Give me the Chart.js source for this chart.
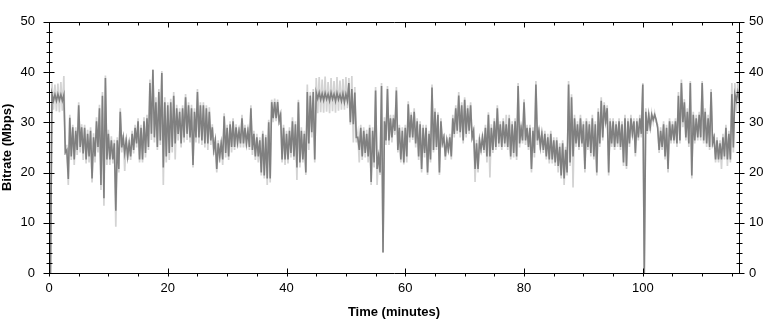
<!DOCTYPE html>
<html>
<head>
<meta charset="utf-8">
<script src="https://cdn.jsdelivr.net/npm/chart.js@4.4.1/dist/chart.umd.min.js"></script>
<style>
html,body{margin:0;padding:0;background:#fff;}
canvas{display:block;}
</style>
</head>
<body>
<canvas id="c" width="768" height="324"></canvas>
<script>
// Sampling step of the series (minutes per sample)
const STEP = 0.5;

// Dark series (bitrate) upper envelope per half-minute, Mbps
const darkHigh = [
  24.0, 35.6, 35.5, 35.6, 35.5, 35.4, 24.5, 30.9, 29.0, 28.3,
  33.4, 29.0, 28.9, 27.7, 28.3, 27.0, 30.2, 32.8, 35.3, 38.8,
  27.7, 26.4, 25.8, 26.4, 32.1, 27.0, 26.4, 25.8, 27.7, 28.9,
  30.2, 28.9, 30.2, 30.8, 37.8, 40.4, 34.0, 36.0, 39.8, 34.0,
  33.4, 34.0, 35.3, 32.8, 32.1, 32.8, 35.0, 33.4, 32.8, 32.1,
  36.0, 33.4, 33.4, 32.8, 32.1, 29.0, 26.4, 25.8, 25.8, 31.2,
  28.9, 29.6, 30.2, 29.0, 28.3, 30.8, 28.9, 28.3, 32.8, 27.7,
  27.0, 26.4, 27.7, 27.0, 30.0, 34.0, 34.0, 34.0, 31.5, 28.9,
  27.7, 28.3, 30.2, 29.6, 34.0, 28.3, 27.7, 36.0, 35.3, 36.0,
  35.9, 35.9, 35.7, 35.8, 35.6, 35.9, 35.6, 35.8, 35.5, 35.7,
  35.6, 37.8, 36.6, 35.9, 27.0, 28.9, 28.3, 27.7, 28.9, 28.3,
  36.3, 23.2, 37.2, 30.2, 36.6, 30.8, 30.8, 36.3, 28.9, 28.3,
  28.9, 33.6, 31.5, 32.1, 30.2, 29.6, 28.9, 28.9, 27.7, 36.9,
  32.1, 31.5, 30.2, 27.0, 26.4, 27.0, 30.8, 32.8, 35.3, 33.4,
  34.5, 32.8, 33.4, 28.3, 25.8, 26.4, 27.0, 28.9, 31.5, 28.9,
  30.2, 32.8, 29.6, 30.2, 29.6, 30.8, 29.6, 30.2, 37.2, 28.9,
  34.0, 28.9, 28.9, 28.3, 37.5, 28.3, 27.7, 27.7, 27.0, 27.7,
  26.4, 26.4, 25.1, 25.8, 24.5, 37.5, 35.0, 30.8, 29.6, 30.8,
  29.6, 30.2, 29.6, 30.8, 29.6, 32.1, 34.3, 33.4, 32.8, 30.2,
  30.2, 29.6, 30.2, 29.6, 30.8, 30.2, 30.8, 30.2, 30.2, 30.8,
  37.5, 32.1, 31.5, 31.5, 31.5, 28.9, 28.3, 29.6, 28.9, 30.2,
  29.6, 30.2, 35.3, 37.8, 34.0, 32.1, 37.8, 31.5, 30.8, 31.5,
  37.8, 32.1, 30.8, 36.0, 27.0, 26.4, 25.8, 27.0, 28.9, 27.7,
  35.6, 35.6, 36.0
];

// Dark series lower envelope per half-minute, Mbps
const darkLow = [
  0.0, 34.3, 34.3, 34.4, 34.3, 24.0, 18.7, 23.2, 22.6, 24.5,
  25.1, 23.8, 22.6, 23.2, 18.8, 23.2, 25.1, 17.5, 14.9, 22.6,
  22.6, 22.6, 12.4, 20.7, 25.0, 23.9, 23.2, 23.2, 24.5, 25.8,
  22.6, 22.6, 23.9, 25.1, 27.7, 27.0, 25.1, 26.4, 21.0, 23.2,
  23.9, 25.1, 25.8, 27.7, 25.8, 27.0, 27.7, 27.0, 21.5, 27.0,
  27.0, 26.4, 25.8, 25.8, 26.4, 24.5, 20.7, 23.2, 22.6, 23.9,
  23.2, 25.1, 25.1, 26.0, 25.8, 25.8, 25.8, 25.1, 24.5, 23.2,
  23.2, 20.0, 19.4, 18.8, 18.8, 30.8, 30.8, 30.2, 22.6, 22.6,
  22.6, 23.9, 23.2, 21.0, 22.0, 22.6, 20.0, 25.8, 28.0, 22.6,
  34.7, 34.5, 34.4, 34.6, 34.3, 34.6, 34.2, 34.5, 34.2, 34.0,
  34.3, 30.0, 29.6, 27.0, 24.5, 23.2, 23.9, 23.2, 18.1, 22.0,
  20.7, 20.0, 4.1, 26.4, 26.4, 27.0, 28.3, 24.5, 22.6, 22.0,
  23.2, 27.0, 27.0, 25.8, 23.2, 20.7, 23.9, 20.0, 22.6, 24.5,
  25.1, 20.0, 25.8, 23.2, 24.5, 23.2, 27.7, 28.3, 28.0, 26.4,
  27.7, 28.3, 27.0, 20.7, 20.7, 24.5, 24.5, 23.2, 23.2, 24.5,
  25.1, 25.8, 25.1, 25.8, 25.1, 23.2, 23.9, 23.2, 25.8, 26.4,
  26.4, 25.1, 20.7, 23.9, 26.4, 25.1, 24.5, 23.2, 22.6, 22.6,
  22.0, 21.3, 19.4, 18.8, 20.0, 22.0, 23.2, 25.8, 25.1, 25.8,
  20.7, 25.1, 23.9, 23.2, 20.0, 25.8, 27.0, 30.2, 20.0, 25.8,
  25.1, 25.8, 25.1, 22.0, 21.3, 25.8, 27.7, 23.9, 27.0, 27.7,
  0.0, 28.3, 29.0, 30.5, 30.5, 24.5, 25.1, 23.2, 20.7, 26.4,
  26.4, 25.8, 26.4, 30.0, 27.0, 25.8, 19.4, 26.4, 27.0, 27.0,
  26.4, 25.8, 25.1, 25.8, 22.6, 22.6, 22.6, 23.2, 22.6, 22.6,
  25.0, 34.3, 34.3
];

// Light series (peak bitrate) upper envelope per half-minute, Mbps
const lightHigh = [
  24.0, 37.8, 37.5, 37.7, 38.0, 39.2, 25.5, 31.5, 29.5, 29.0,
  34.0, 29.6, 29.5, 28.5, 29.0, 27.8, 31.0, 33.5, 36.0, 39.3,
  28.5, 27.2, 26.5, 27.0, 32.8, 27.5, 27.0, 26.5, 28.3, 29.5,
  30.8, 29.5, 31.0, 31.5, 38.5, 40.6, 35.0, 36.6, 40.2, 35.0,
  34.0, 34.7, 36.0, 33.5, 32.8, 33.4, 35.6, 34.0, 33.5, 32.8,
  36.6, 34.0, 34.0, 33.4, 33.0, 29.6, 27.0, 26.4, 26.5, 31.8,
  29.5, 30.2, 30.8, 29.6, 29.0, 31.5, 29.5, 29.0, 33.4, 28.3,
  27.7, 27.0, 28.3, 27.5, 30.5, 34.5, 34.7, 34.5, 32.0, 29.5,
  28.3, 29.0, 31.0, 30.2, 34.5, 29.0, 28.3, 37.5, 36.0, 36.6,
  38.8, 39.0, 38.5, 39.1, 38.0, 38.8, 38.2, 39.0, 38.3, 38.6,
  39.0, 38.8, 39.2, 37.0, 27.8, 29.5, 29.0, 28.5, 29.5, 29.0,
  37.0, 24.0, 37.8, 31.0, 37.2, 31.5, 31.5, 37.0, 29.5, 29.0,
  29.5, 34.2, 32.0, 32.8, 30.8, 30.2, 29.5, 29.5, 28.3, 37.5,
  32.8, 32.0, 30.8, 27.7, 27.0, 27.7, 31.5, 33.4, 36.0, 34.0,
  35.0, 33.4, 34.0, 29.0, 26.5, 27.0, 27.7, 29.5, 32.0, 29.6,
  30.8, 33.4, 30.2, 30.8, 31.5, 31.5, 30.2, 30.8, 37.8, 29.5,
  34.6, 29.5, 29.5, 29.0, 38.2, 29.0, 28.3, 28.3, 27.7, 28.3,
  27.0, 27.0, 25.8, 26.4, 25.1, 38.2, 35.6, 31.5, 30.2, 31.5,
  30.2, 30.8, 30.2, 31.5, 30.2, 32.8, 35.0, 34.0, 33.4, 30.8,
  30.8, 30.2, 30.8, 30.2, 31.5, 30.8, 31.5, 30.8, 30.8, 31.5,
  37.8, 32.8, 32.0, 31.8, 31.8, 29.5, 29.0, 30.2, 29.5, 30.8,
  30.2, 30.8, 36.0, 38.5, 34.6, 32.8, 38.2, 32.1, 31.5, 32.1,
  38.2, 32.8, 31.5, 36.6, 27.7, 27.0, 26.4, 27.7, 29.5, 28.3,
  37.8, 37.8, 38.0
];

// Light series lower envelope per half-minute, Mbps
const lightLow = [
  0.0, 32.5, 32.2, 32.0, 32.3, 23.5, 17.5, 22.5, 21.5, 23.5,
  24.0, 22.5, 21.8, 22.0, 18.0, 22.0, 24.0, 16.5, 13.4, 21.5,
  21.5, 21.8, 9.2, 20.0, 24.0, 20.3, 22.5, 22.5, 23.8, 25.0,
  22.0, 22.0, 23.0, 24.5, 26.5, 26.0, 24.5, 25.5, 17.5, 22.0,
  22.5, 24.0, 22.6, 26.4, 25.0, 26.0, 26.5, 26.0, 21.0, 26.0,
  25.8, 25.5, 25.0, 24.5, 25.5, 23.5, 20.0, 22.0, 21.5, 23.0,
  22.5, 24.0, 24.5, 25.0, 25.0, 25.0, 25.0, 24.5, 23.5, 22.5,
  22.0, 19.4, 18.8, 17.5, 18.0, 30.0, 30.2, 29.5, 22.0, 21.5,
  21.8, 23.0, 22.5, 18.5, 21.0, 22.0, 19.5, 24.5, 27.0, 22.0,
  31.8, 32.0, 31.9, 32.1, 31.8, 32.2, 31.9, 32.3, 32.5, 32.5,
  32.8, 29.5, 26.0, 26.0, 22.0, 22.5, 23.0, 22.0, 17.5, 21.0,
  17.5, 19.5, 4.1, 25.5, 25.5, 26.0, 27.5, 24.0, 22.0, 21.6,
  22.0, 26.0, 26.5, 25.0, 22.5, 20.0, 23.0, 19.5, 22.0, 24.0,
  24.5, 19.5, 25.0, 22.5, 23.9, 22.6, 27.0, 27.7, 27.0, 25.8,
  27.0, 27.7, 26.4, 18.1, 20.0, 23.9, 23.9, 22.0, 19.0, 23.9,
  24.5, 25.1, 24.5, 25.1, 24.5, 22.6, 23.0, 22.5, 25.0, 25.8,
  25.5, 24.5, 20.0, 23.0, 25.5, 24.5, 23.9, 22.6, 21.8, 21.8,
  21.3, 20.0, 18.8, 17.5, 19.4, 21.3, 17.0, 25.1, 24.5, 25.1,
  20.0, 24.5, 23.2, 22.6, 19.4, 25.1, 26.4, 29.6, 19.4, 25.1,
  24.5, 25.1, 24.5, 21.3, 20.7, 25.1, 27.0, 23.2, 26.4, 27.0,
  0.0, 27.7, 28.3, 30.0, 30.0, 23.9, 24.5, 22.6, 20.0, 25.8,
  25.8, 25.1, 25.8, 29.0, 26.4, 25.1, 18.8, 25.8, 26.4, 26.4,
  25.8, 25.1, 24.5, 25.1, 22.0, 22.0, 20.7, 22.6, 21.3, 22.0,
  24.0, 32.1, 32.1
];

// Axis definitions
const xTickLabels = [0, 20, 40, 60, 80, 100];
const yTickLabels = [0, 10, 20, 30, 40, 50];
const X_MIN = 0, X_MAX = 116.2, X_MINOR = 5;
const Y_MIN = 0, Y_MAX = 50, Y_MINOR = 2;

const DARK = '#808080';
const LIGHT = '#d3d3d3';
const FONT = "'Liberation Sans', Arial, sans-serif";

// Each half-minute sample contributes its high and its low reading in turn,
// so the line sweeps the full range of the sample like a dense trace.
function sweep(high, low) {
  const pts = [];
  for (let i = 0; i < high.length; i++) {
    pts.push({x: i * STEP, y: high[i]});
    pts.push({x: i * STEP + STEP / 2, y: low[i]});
  }
  return pts;
}

const axisPlugin = {
  id: 'axisFrame',
  afterDraw(chart) {
    const {ctx, chartArea: a, scales} = chart;
    const xs = scales.x, ys = scales.y;
    const L = Math.round(a.left) + 0.5, R = Math.round(a.right) + 0.5;
    const T = Math.round(a.top) + 0.5, B = Math.round(a.bottom) + 0.5;
    ctx.save();
    ctx.strokeStyle = '#000';
    ctx.lineWidth = 1;
    ctx.beginPath();
    ctx.rect(L, T, R - L, B - T);
    for (let v = X_MIN; v <= X_MAX + 1e-6; v += X_MINOR) {
      const px = Math.round(xs.getPixelForValue(v)) + 0.5;
      const major = xTickLabels.includes(v);
      ctx.moveTo(px, B - (major ? 5 : 0)); ctx.lineTo(px, B + 3);
      ctx.moveTo(px, T); ctx.lineTo(px, T + (major ? 5 : 3));
    }
    for (let v = Y_MIN; v <= Y_MAX + 1e-6; v += Y_MINOR) {
      const py = Math.round(ys.getPixelForValue(v)) + 0.5;
      const major = yTickLabels.includes(v);
      ctx.moveTo(L - (major ? 6 : 3), py); ctx.lineTo(L + (major ? 5 : 3), py);
      ctx.moveTo(R - (major ? 5 : 3), py); ctx.lineTo(R + (major ? 5 : 3), py);
    }
    ctx.stroke();
    ctx.restore();
  }
};

const tickFont = {family: FONT, size: 13};
const titleFont = {family: FONT, size: 13, weight: 'bold'};

new Chart(document.getElementById('c'), {
  type: 'line',
  data: {
    datasets: [
      {data: sweep(lightHigh, lightLow), borderColor: LIGHT, borderWidth: 1.7, fill: false, order: 2},
      {data: sweep(darkHigh, darkLow), borderColor: DARK, borderWidth: 1.6, fill: false, order: 1}
    ]
  },
  options: {
    responsive: false,
    animation: false,
    devicePixelRatio: 1,
    layout: {padding: {top: 11, left: 0, right: 0, bottom: 0}},
    elements: {point: {radius: 0}, line: {tension: 0, borderJoinStyle: 'miter'}},
    plugins: {legend: {display: false}, tooltip: {enabled: false}},
    scales: {
      x: {
        type: 'linear', position: 'bottom', min: X_MIN, max: X_MAX,
        afterBuildTicks: s => { s.ticks = xTickLabels.map(v => ({value: v})); },
        afterFit: s => { s.height = 51; },
        ticks: {font: tickFont, color: '#000', padding: 8, maxRotation: 0, autoSkip: false},
        grid: {display: false, drawTicks: false}, border: {display: false},
        title: {display: true, text: 'Time (minutes)', font: titleFont, color: '#000', padding: {top: 0, bottom: 4}}
      },
      y: {
        type: 'linear', position: 'left', min: Y_MIN, max: Y_MAX,
        afterBuildTicks: s => { s.ticks = yTickLabels.map(v => ({value: v})); },
        afterFit: s => { s.width = 49; },
        ticks: {font: tickFont, color: '#000', padding: 14},
        grid: {display: false, drawTicks: false}, border: {display: false},
        title: {display: true, text: 'Bitrate (Mbps)', font: titleFont, color: '#000', padding: {top: 0, bottom: 0}}
      },
      y2: {
        type: 'linear', position: 'right', min: Y_MIN, max: Y_MAX,
        afterBuildTicks: s => { s.ticks = yTickLabels.map(v => ({value: v})); },
        afterFit: s => { s.width = 29; },
        ticks: {font: tickFont, color: '#000', padding: 10},
        grid: {display: false, drawTicks: false}, border: {display: false}
      }
    }
  },
  plugins: [axisPlugin]
});
</script>
</body>
</html>
